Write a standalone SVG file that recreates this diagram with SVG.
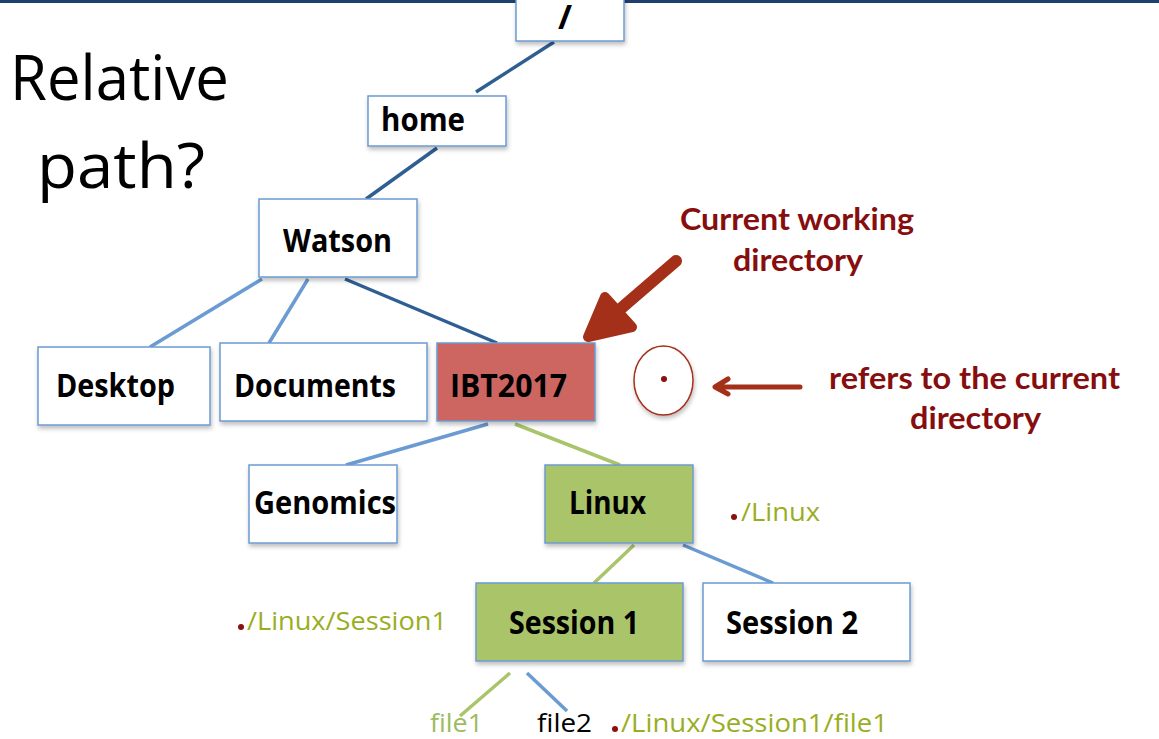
<svg xmlns="http://www.w3.org/2000/svg" width="1159" height="739" viewBox="0 0 1159 739">
<defs>
<filter id="sh" x="-10%" y="-10%" width="130%" height="140%">
<feDropShadow dx="1" dy="3" stdDeviation="2" flood-color="#000" flood-opacity="0.25"/>
</filter>
</defs>
<style>
.box{stroke:#6C9BD2;stroke-width:1.5;fill:#fff;filter:url(#sh)}
.red{fill:#CD6660}
.grn{fill:#AAC46B}
.lbl{font-family:"Open Sans","Noto Sans",sans-serif;font-weight:700;font-size:32px;fill:#000}
.big{font-family:"Open Sans","Noto Sans",sans-serif;font-size:63px;fill:#000}
.call{font-family:Lato,"Open Sans",sans-serif;font-weight:700;font-size:31px;fill:#860E0E}
.path{font-family:"Open Sans","Noto Sans",sans-serif;font-size:26px;fill:#99AE1F}
.dot{fill:#8B1010}
.dk{stroke:#2F5F92;stroke-width:3.5;fill:none}
.lt{stroke:#6A9BD2;stroke-width:3.5;fill:none}
.gl{stroke:#AAC46B;stroke-width:3.5;fill:none}
.arr{stroke:#A5301A;fill:none;stroke-linecap:round;stroke-linejoin:round}
</style>
<rect x="0" y="0" width="1159" height="3" fill="#1F3F6E"/>
<g id="title">
<text class="big" x="10" y="100" textLength="219" lengthAdjust="spacingAndGlyphs">Relative</text>
<text class="big" x="37" y="188" textLength="168" lengthAdjust="spacingAndGlyphs">path?</text>
</g>
<g id="connectors">
<line class="dk" x1="554" y1="42" x2="476" y2="92"/>
<line class="dk" x1="437" y1="148" x2="366" y2="199"/>
<line class="lt" x1="262" y1="279" x2="150" y2="347"/>
<line class="lt" x1="308" y1="279" x2="269" y2="343"/>
<line class="dk" x1="345" y1="279" x2="497" y2="343"/>
<line class="lt" x1="488" y1="424" x2="346" y2="465"/>
<line class="gl" x1="515" y1="424" x2="620" y2="465"/>
<line class="gl" x1="634" y1="545" x2="594" y2="583"/>
<line class="lt" x1="683" y1="545" x2="773" y2="583"/>
<line class="gl" x1="510" y1="673" x2="460" y2="716"/>
<line class="lt" x1="527" y1="673" x2="567" y2="711"/>
</g>
<g id="root">
<rect class="box" x="516" y="-5" width="108" height="46"/>
<text x="558" y="29" font-family="Open Sans,sans-serif" font-size="34" font-weight="700" fill="#000">/</text>
</g>
<g id="home">
<rect class="box" x="368" y="96" width="138" height="50"/>
<text class="lbl" x="381" y="131" font-size="30" textLength="84" lengthAdjust="spacingAndGlyphs">home</text>
</g>
<g id="watson">
<rect class="box" x="259" y="199" width="158" height="78"/>
<text class="lbl" x="283" y="252" textLength="109" lengthAdjust="spacingAndGlyphs">Watson</text>
</g>
<g id="desktop">
<rect class="box" x="38" y="347" width="172" height="78"/>
<text class="lbl" x="56" y="397" textLength="119" lengthAdjust="spacingAndGlyphs">Desktop</text>
</g>
<g id="documents">
<rect class="box" x="220" y="343" width="207" height="78"/>
<text class="lbl" x="234" y="397" textLength="162" lengthAdjust="spacingAndGlyphs">Documents</text>
</g>
<g id="ibt2017">
<rect class="box red" x="437" y="343" width="158" height="78"/>
<text class="lbl" x="450" y="397" textLength="117" lengthAdjust="spacingAndGlyphs">IBT2017</text>
</g>
<g id="genomics">
<rect class="box" x="249" y="465" width="148" height="78"/>
<text class="lbl" x="254" y="514" textLength="142" lengthAdjust="spacingAndGlyphs">Genomics</text>
</g>
<g id="linux">
<rect class="box grn" x="545" y="465" width="148" height="78"/>
<text class="lbl" x="569" y="514" textLength="77" lengthAdjust="spacingAndGlyphs">Linux</text>
</g>
<g id="session1">
<rect class="box grn" x="476" y="583" width="207" height="78"/>
<text class="lbl" x="509" y="634" textLength="130" lengthAdjust="spacingAndGlyphs">Session 1</text>
</g>
<g id="session2">
<rect class="box" x="703" y="583" width="207" height="78"/>
<text class="lbl" x="726" y="634" textLength="132" lengthAdjust="spacingAndGlyphs">Session 2</text>
</g>
<g id="cwd-callout">
<text class="call" x="680" y="230" textLength="234" lengthAdjust="spacingAndGlyphs">Current working</text>
<text class="call" x="733" y="271" textLength="130" lengthAdjust="spacingAndGlyphs">directory</text>
<path class="arr" d="M676,261 L596,330" stroke-width="12"/>
<path d="M605,297 L588,337 L632,327 Z" fill="#A5301A" stroke="#A5301A" stroke-width="10" stroke-linejoin="round"/>
</g>
<g id="dot-callout">
<ellipse cx="663.5" cy="380.5" rx="29.5" ry="34.5" fill="#fff" stroke="#A5301A" stroke-width="1.5" filter="url(#sh)"/>
<circle class="dot" cx="664" cy="379" r="3"/>
<path class="arr" d="M800,387 L716,387 M728,379 L715,387 L728,394" stroke-width="5"/>
<text class="call" x="829" y="389" textLength="291" lengthAdjust="spacingAndGlyphs">refers to the current</text>
<text class="call" x="910" y="429" textLength="131" lengthAdjust="spacingAndGlyphs">directory</text>
</g>
<g id="paths">
<circle class="dot" cx="734" cy="517" r="3"/>
<text class="path" x="741" y="521" textLength="79" lengthAdjust="spacingAndGlyphs">/Linux</text>
<circle class="dot" cx="241" cy="627" r="3"/>
<text class="path" x="247" y="630" textLength="200" lengthAdjust="spacingAndGlyphs">/Linux/Session1</text>
<text class="path" x="430" y="732" style="fill:#9DBB61" textLength="53" lengthAdjust="spacingAndGlyphs">file1</text>
<text class="path" x="537" y="732" style="fill:#000" textLength="55" lengthAdjust="spacingAndGlyphs">file2</text>
<circle class="dot" cx="615" cy="729" r="3"/>
<text class="path" x="621" y="732" textLength="267" lengthAdjust="spacingAndGlyphs">/Linux/Session1/file1</text>
</g>
</svg>
